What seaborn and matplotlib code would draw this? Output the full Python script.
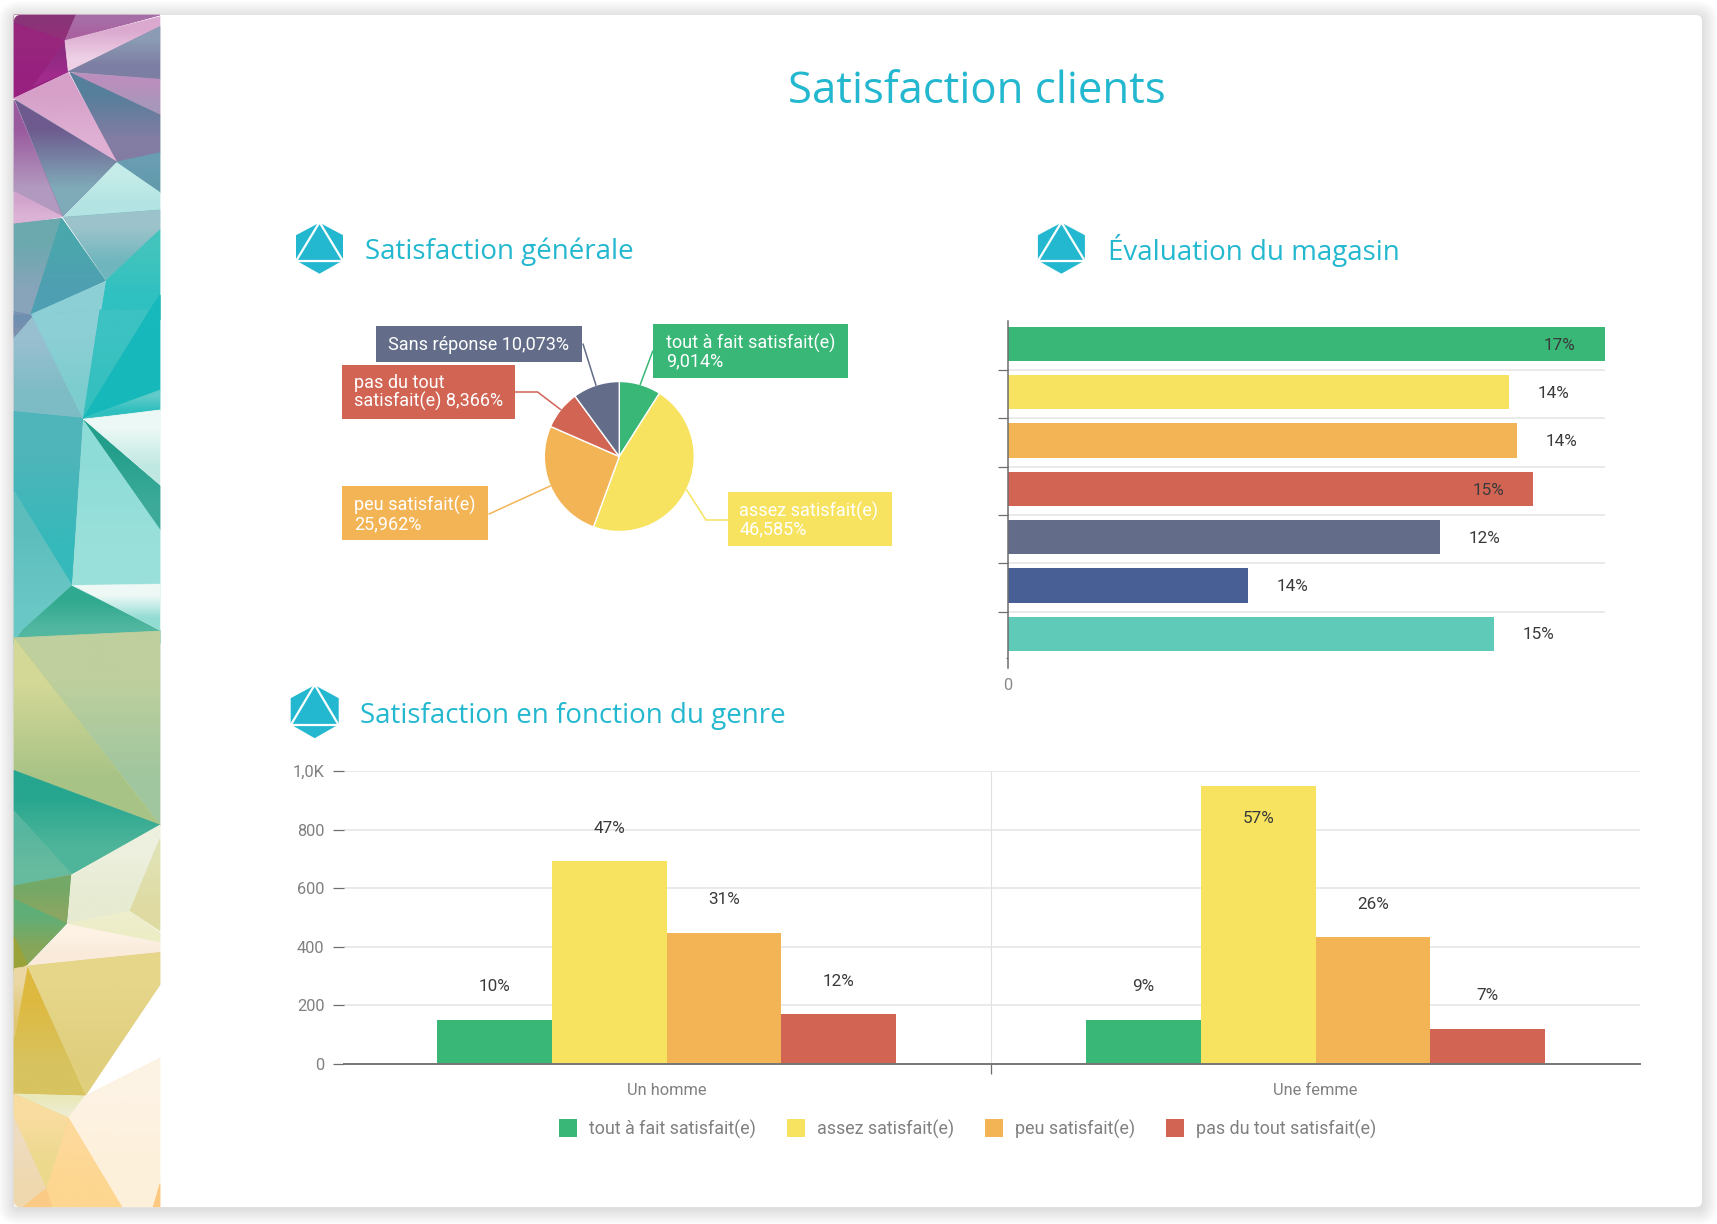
import numpy as np
import pandas as pd
import matplotlib
matplotlib.use("Agg")
import matplotlib.pyplot as plt
from matplotlib.colors import to_rgb
from matplotlib.patches import FancyBboxPatch, Polygon, Rectangle
import seaborn as sns

# ---------- data ----------
levels = ["tout à fait satisfait(e)", "assez satisfait(e)", "peu satisfait(e)", "pas du tout satisfait(e)"]
level_colors = ["#39b777", "#f7e35f", "#f3b456", "#d26454"]

pie_names = ["tout à fait satisfait(e)\n9,014%", "assez satisfait(e)\n46,585%", "peu satisfait(e)\n25,962%",
             "pas du tout\nsatisfait(e) 8,366%", "Sans réponse 10,073%"]
pie_values = [9.014, 46.585, 25.962, 8.366, 10.073]
pie_colors = ["#39b777", "#f7e35f", "#f3b456", "#d26454", "#636d89"]

store_items = ["A", "B", "C", "D", "E", "F", "G"]
store_values = [1000, 840, 854, 880, 724, 403, 814]
store_labels = ["17%", "14%", "14%", "15%", "12%", "14%", "15%"]
store_inside = [True, False, False, True, False, False, False]
store_colors = ["#39b777", "#f7e35f", "#f3b456", "#d26454", "#636d89", "#485f96", "#5ecab7"]

genders = ["Un homme", "Une femme"]
men_values = [150, 692, 447, 170]
women_values = [151, 950, 432, 120]
men_labels = ["10%", "47%", "31%", "12%"]
women_labels = ["9%", "57%", "26%", "7%"]
men_inside = [False, False, False, False]
women_inside = [False, True, False, False]
y_ticks = [0, 200, 400, 600, 800, 1000]
y_tick_labels = ["0", "200", "400", "600", "800", "1,0K"]

# ---------- style ----------
sns.set_theme(style="white")
plt.rcParams["font.family"] = ["Roboto", "DejaVu Sans"]
W, H = 1717, 1224
ACCENT = "#23b8cf"
HEAD_FONT = ["Open Sans", "DejaVu Sans"]
fig = plt.figure(figsize=(W / 100, H / 100), dpi=100, facecolor="white")


def ax_px(x0, y0, x1, y1, **kw):
    return fig.add_axes([x0 / W, 1 - y1 / H, (x1 - x0) / W, (y1 - y0) / H], **kw)


# ---------- page background, card, polygon stripe ----------
bg = ax_px(0, 0, W, H, zorder=0)
bg.set_xlim(0, W)
bg.set_ylim(H, 0)
bg.axis("off")

CX0, CY0, CX1, CY1 = 14, 15, 1702, 1207
for i in range(16, 0, -1):
    bg.add_patch(FancyBboxPatch((CX0 - i, CY0 - i + 2), CX1 - CX0 + 2 * i, CY1 - CY0 + 2 * i,
                                boxstyle="round,pad=0,rounding_size=%d" % (6 + i),
                                fc="black", ec="none", alpha=0.006, zorder=1))
bg.add_patch(FancyBboxPatch((CX0, CY0), CX1 - CX0, CY1 - CY0, boxstyle="round,pad=0,rounding_size=6",
                            fc="white", ec="none", zorder=2))

STRIPE_TOP = [
    ([(42, 45), (228, 45), (195, 122), (42, 70)], "#8a3478", "#913078"),
    ([(42, 70), (195, 122), (205, 215), (42, 295)], "#97267c", "#98207f"),
    ([(195, 125), (205, 215), (100, 258)], "#8e2a80", "#a02b8d"),
    ([(228, 45), (480, 45), (195, 122)], "#a76da6", "#a9619f"),
    ([(195, 122), (480, 50), (480, 80), (205, 215)], "#dba9cf", "#eed0e6"),
    ([(205, 215), (480, 80), (480, 238)], "#8b9cb4", "#7d7ea3"),
    ([(210, 218), (480, 238), (480, 345)], "#bb8fbd", "#a897ba"),
    ([(210, 218), (480, 345), (480, 458), (350, 486)], "#567f9b", "#837ca3"),
    ([(42, 295), (205, 218), (350, 486)], "#d6a0c9", "#e0b0d4"),
    ([(45, 300), (350, 486), (188, 650)], "#6e5a8e", "#7faab8"),
    ([(42, 300), (188, 650), (42, 575)], "#9a5a9e", "#b299bf"),
    ([(42, 575), (188, 650), (42, 672)], "#d2a3cd", "#dcb3d6"),
    ([(350, 486), (480, 458), (480, 578)], "#6a9db2", "#639bad"),
    ([(350, 488), (480, 578), (480, 630), (190, 652)], "#c5ece9", "#b3e4e3"),
    ([(190, 652), (480, 630), (480, 690), (318, 840)], "#9cc3cb", "#6fb6be"),
    ([(42, 672), (185, 655), (92, 945), (42, 935)], "#6ba9ae", "#88a4ba"),
    ([(185, 655), (316, 842), (92, 945)], "#4aa7ac", "#4f9fb2"),
    ([(318, 842), (480, 690), (480, 960), (298, 960)], "#42c4bd", "#2fc0c1"),
    ([(440, 960), (480, 885), (480, 960)], "#18b7b9", "#18b7b9"),
    ([(316, 845), (298, 960), (90, 945)], "#8ccfd5", "#8ccfd5"),
    ([(42, 935), (92, 945), (42, 1000)], "#7a93b2", "#7a93b2"),
]
STRIPE_MID = [
    ([(42, 15), (100, 15), (42, 85)], "#6f8fb0", "#7d8fae"),
    ([(100, 20), (250, 325), (42, 305), (42, 85)], "#98bfd0", "#7dbcc4"),
    ([(95, 15), (300, 0), (250, 325)], "#8ccfd5", "#7dcdce"),
    ([(300, 0), (450, 0), (250, 325)], "#3cc2c2", "#35c0bf"),
    ([(450, 0), (480, -45), (480, 240), (250, 325)], "#17b9bc", "#17b8ba"),
    ([(250, 325), (480, 240), (480, 300)], "#60cbc9", "#2fbfbf"),
    ([(255, 328), (480, 300), (480, 525)], "#ecf8f5", "#c0e8e2"),
    ([(250, 330), (480, 528), (480, 660)], "#229e8b", "#3daa99"),
    ([(250, 332), (480, 660), (480, 822), (218, 825)], "#8edcd8", "#9ae0da"),
    ([(42, 305), (248, 325), (215, 825), (42, 545)], "#4fb5ba", "#36b9ba"),
    ([(42, 545), (215, 825), (70, 960), (42, 1000)], "#5dbdbd", "#69c8c5"),
    ([(215, 828), (480, 960), (480, 1000), (42, 1000), (70, 960)], "#2fa98f", "#52b7a0"),
    ([(220, 826), (480, 822), (480, 960)], "#eef9f6", "#92dcd4"),
]
STRIPE_BOT = [
    ([(42, 95), (480, 78), (480, 565)], "#bfcf9d", "#a0c69f"),
    ([(42, 95), (480, 565), (42, 428)], "#d3d897", "#a8c386"),
    ([(42, 428), (480, 565), (215, 688), (42, 530)], "#26a58f", "#4fb59a"),
    ([(42, 530), (215, 688), (42, 718)], "#57b69f", "#66bb9e"),
    ([(42, 718), (215, 690), (200, 812), (42, 750)], "#73a866", "#89a763"),
    ([(42, 750), (200, 812), (82, 915), (42, 845)], "#5fae77", "#88a658"),
    ([(42, 845), (82, 915), (42, 932)], "#9aa33a", "#9aa33a"),
    ([(215, 690), (480, 565), (480, 600), (390, 780), (203, 812)], "#edf0de", "#e7ebd2"),
    ([(480, 600), (480, 830), (390, 780)], "#e1e2b4", "#dedaa2"),
    ([(203, 812), (390, 782), (480, 835), (480, 860)], "#eeeecd", "#ecedc5"),
    ([(205, 815), (480, 860), (480, 885), (85, 915)], "#fdf2e4", "#f9eada"),
    ([(85, 918), (480, 885), (480, 965), (255, 1245)], "#e6d68a", "#e0cf7d"),
    ([(82, 920), (255, 1245), (42, 1240), (42, 1100)], "#deb93f", "#d7c35f"),
    ([(42, 925), (82, 920), (42, 1100)], "#ead7a3", "#e0c672"),
    ([(42, 1240), (255, 1245), (205, 1300)], "#e9e9bb", "#eeecd0"),
    ([(255, 1245), (480, 1150), (480, 1523), (365, 1523), (205, 1300)], "#fdf3e4", "#fdf0da"),
    ([(205, 1300), (365, 1523), (155, 1523), (138, 1478)], "#fdd99b", "#fdd690"),
    ([(42, 1240), (205, 1300), (138, 1478), (42, 1300)], "#f8dca0", "#ecd98c"),
    ([(42, 1300), (138, 1478), (70, 1523), (42, 1523)], "#eedcc0", "#efd8ae"),
    ([(70, 1523), (138, 1478), (155, 1523)], "#fbcb86", "#fbcb86"),
    ([(460, 1523), (480, 1465), (480, 1523)], "#fdc981", "#fdc981"),
]

bg.add_patch(Rectangle((CX0, CY0), 160 - CX0, CY1 - CY0, fc="#ffffff", ec="none", zorder=3))
zo = 4.0


def stripe_poly(pts, c1, c2, conv):
    global zo
    xy = [conv(p) for p in pts]
    mean = tuple((np.array(to_rgb(c1)) + np.array(to_rgb(c2))) / 2)
    poly = Polygon(xy, closed=True, fc=mean, ec=mean, lw=0.6, zorder=zo)
    bg.add_patch(poly)
    xs, ys = zip(*xy)
    arr = np.array([[to_rgb(c1)], [to_rgb(c2)]])
    im = bg.imshow(arr, extent=(min(xs), max(xs), max(ys), min(ys)), aspect="auto",
                   interpolation="bilinear", zorder=zo + 0.001, origin="upper")
    clip = Polygon(xy, closed=True, transform=bg.transData)
    im.set_clip_path(clip)
    zo += 0.01


for pts, c1, c2 in STRIPE_TOP:
    stripe_poly(pts, c1, c2, lambda p: (p[0] / 3, p[1] / 3))
for pts, c1, c2 in STRIPE_MID:
    stripe_poly(pts, c1, c2, lambda p: (p[0] / 3, 310 + p[1] / 3))
for pts, c1, c2 in STRIPE_BOT:
    stripe_poly(pts, c1, c2, lambda p: (p[0] / 3, 600 + p[1] / 2.51))
bg.set_xlim(0, W)
bg.set_ylim(H, 0)


def corner_mask(cx, cy, sy):
    r = 6
    a = np.linspace(0, np.pi / 2, 10)
    arc = [(cx + r - r * np.cos(t), cy + sy * (r - r * np.sin(t))) for t in a]
    bg.add_patch(Polygon([(cx, cy)] + arc, closed=True, fc="#f3f3f3", ec="none", zorder=zo + 1))


corner_mask(CX0, CY0, 1)
corner_mask(CX0, CY1, -1)


# ---------- titles and icons ----------
def icon(cx, top, w=47, h=51):
    L, R = cx - w / 2, cx + w / 2
    y1, y2, y3 = top + h * 0.245, top + h * 0.74, top + h
    bg.add_patch(Polygon([(cx, top), (R, y1), (R, y2), (cx, y3), (L, y2), (L, y1)], closed=True,
                         fc=ACCENT, ec="none", zorder=20))
    bg.plot([L + 1, cx, R - 1], [y2 - 1, top - 0.5, y2 - 1], color="white", lw=1.6, zorder=21)
    bg.plot([L - 1, R + 1], [y2 + 0.5, y2 + 0.5], color="white", lw=1.6, zorder=21)


icon(319.5, 222.7)
icon(1061.4, 222.7)
icon(314.7, 685.2, w=48, h=53)

bg.text(977, 103, "Satisfaction clients", ha="center", va="baseline", color=ACCENT, fontsize=31.5, family=HEAD_FONT, zorder=22)
bg.text(364.8, 259.5, "Satisfaction générale", ha="left", va="baseline", color=ACCENT, fontsize=20, family=HEAD_FONT, zorder=22)
bg.text(1108, 260, "Évaluation du magasin", ha="left", va="baseline", color=ACCENT, fontsize=20, family=HEAD_FONT, zorder=22)
bg.text(359.8, 722.7, "Satisfaction en fonction du genre", ha="left", va="baseline", color=ACCENT, fontsize=20, family=HEAD_FONT, zorder=22)

# ---------- pie ----------
PCX, PCY, PR = 619.3, 456.5, 75
ax_pie = ax_px(PCX - PR, PCY - PR, PCX + PR, PCY + PR, zorder=2)
ax_pie.pie(pie_values, colors=pie_colors, startangle=90, counterclock=False, radius=1)
ax_pie.set_xlim(-1, 1)
ax_pie.set_ylim(-1, 1)
ax_pie.patch.set_alpha(0)

fg = ax_px(0, 0, W, H, zorder=5)
fg.set_xlim(0, W)
fg.set_ylim(H, 0)
fg.axis("off")
fg.patch.set_alpha(0)

# box (x0, y0, x1, y1), text left, text centre y, elbow points from box to wedge
pie_boxes = [
    ((652.8, 324, 847.5, 378), 666, 352.3, [(652.8, 351)]),
    ((728, 492, 892, 546), 739.4, 520.3, [(728, 520), (706, 520)]),
    ((342, 485.8, 487.7, 539.5), 353.8, 514.5, [(489, 514)]),
    ((342, 364.8, 514.5, 418.6), 353.8, 392.8, [(514.5, 392), (537.6, 392)]),
    ((376, 325.7, 581.5, 361.7), 388.4, 344.5, [(583, 344)]),
]
cum = 0.0
total = sum(pie_values)
for name, val, col, (box, tx, ty, elbow) in zip(pie_names, pie_values, pie_colors, pie_boxes):
    mid = np.deg2rad((cum + val / 2) / total * 360)
    cum += val
    tip = (PCX + PR * np.sin(mid), PCY - PR * np.cos(mid))
    xs = [p[0] for p in elbow] + [tip[0]]
    ys = [p[1] for p in elbow] + [tip[1]]
    fg.plot(xs, ys, color=col, lw=1.1, zorder=3, solid_joinstyle="miter")
    fg.add_patch(Rectangle((box[0], box[1]), box[2] - box[0], box[3] - box[1], fc=col, ec="none", zorder=4))
    fg.text(tx, ty, name, color="white", fontsize=13, ha="left", va="center", linespacing=0.97, zorder=5)

# ---------- store evaluation ----------
ax_store = ax_px(1008, 321, 1604.6, 668, zorder=2)
ax_store.patch.set_alpha(0)
df_store = pd.DataFrame({"item": store_items, "value": store_values})
sns.barplot(data=df_store, y="item", x="value", hue="item", palette=store_colors, dodge=False, width=0.71,
            saturation=1, legend=False, linewidth=0, ax=ax_store)
ax_store.set_xlim(0, max(store_values))
ax_store.set_ylim(6.708, -0.477)
ax_store.set_yticks(np.arange(6) + 0.54)
ax_store.set_yticks([6.5], minor=True)
ax_store.set_yticklabels([])
ax_store.set_xticks([0])
ax_store.set_xticklabels(["0"])
ax_store.set_xlabel("")
ax_store.set_ylabel("")
ax_store.set_axisbelow(True)
ax_store.grid(True, axis="y", which="major", color="#e4e4e4", lw=1.1)
ax_store.grid(False, axis="x")
ax_store.tick_params(axis="y", which="major", left=True, length=7.2, width=0.9, color="#6e6e6e")
ax_store.tick_params(axis="y", which="minor", left=True, length=1.5, width=0.9, color="#6e6e6e")
ax_store.tick_params(axis="x", length=0, pad=7.5, labelsize=11.8, labelcolor="#8a8a8a")
for s in ["top", "right", "bottom"]:
    ax_store.spines[s].set_visible(False)
ax_store.spines["left"].set_color("#6e6e6e")
ax_store.spines["left"].set_linewidth(1.1)
for i, (v, lab, ins) in enumerate(zip(store_values, store_labels, store_inside)):
    ax_store.annotate(lab, (v, i), xytext=(-32.4 if ins else 32, -0.8), textcoords="offset points",
                      ha="center", va="center", fontsize=12.3, color="#3a3a3a")

# ---------- gender chart ----------
ax_g = ax_px(344, 771, 1640, 1064, zorder=2)
ax_g.patch.set_alpha(0)
df_g = pd.DataFrame({
    "genre": [genders[0]] * 4 + [genders[1]] * 4,
    "niveau": levels * 2,
    "n": men_values + women_values,
})
sns.barplot(data=df_g, x="genre", y="n", hue="niveau", hue_order=levels, order=genders, palette=level_colors,
            width=0.707, gap=0, saturation=1, linewidth=0, ax=ax_g)
handles, labels_ = ax_g.get_legend_handles_labels()
ax_g.get_legend().remove()
ax_g.set_xlim(-0.497, 1.5)
ax_g.set_ylim(0, 1000)
ax_g.set_yticks(y_ticks)
ax_g.set_yticklabels(y_tick_labels)
ax_g.set_xticks([0, 1])
ax_g.set_xticklabels(genders)
ax_g.set_xticks([0.5], minor=True)
ax_g.set_xlabel("")
ax_g.set_ylabel("")
ax_g.set_axisbelow(True)
ax_g.grid(True, axis="y", color="#e4e4e4", lw=1.1)
ax_g.grid(True, axis="x", which="minor", color="#e0e0e0", lw=0.8)
ax_g.grid(False, axis="x", which="major")
ax_g.tick_params(axis="y", left=True, length=8, width=0.9, color="#6e6e6e", pad=6, labelsize=11.8, labelcolor="#808080")
ax_g.tick_params(axis="x", which="major", length=0, pad=14, labelsize=11.8, labelcolor="#808080")
ax_g.tick_params(axis="x", which="minor", bottom=True, length=7.5, width=0.9, color="#6e6e6e")
for s in ["top", "right", "left"]:
    ax_g.spines[s].set_visible(False)
ax_g.spines["bottom"].set_color("#767676")
ax_g.spines["bottom"].set_linewidth(1.4)

men_women = list(zip(men_labels, women_labels))
ins_pairs = list(zip(men_inside, women_inside))
for cont, labs, insides in zip(ax_g.containers, men_women, ins_pairs):
    for bar, lab, ins in zip(cont.patches, labs, insides):
        ax_g.annotate(lab, (bar.get_x() + bar.get_width() / 2, bar.get_height()),
                      xytext=(0, -23.8 if ins else 23.8), textcoords="offset points",
                      ha="center", va="center", fontsize=12.3, color="#3a3a3a")

fs = 12.9
fpx = fs / 0.72
leg = fig.legend(handles, labels_, ncol=4, loc="center", bbox_to_anchor=(968 / W, 1 - 1129 / H), frameon=False,
                 fontsize=fs, labelcolor="#808080", handlelength=18 / fpx, handleheight=(18 - 0.245 * fpx) / (0.65 * fpx),
                 handletextpad=12 / fpx, columnspacing=31 / fpx, borderpad=0, borderaxespad=0)
leg.set_zorder(10)

fig.savefig("out.png", dpi=100, facecolor="white")
